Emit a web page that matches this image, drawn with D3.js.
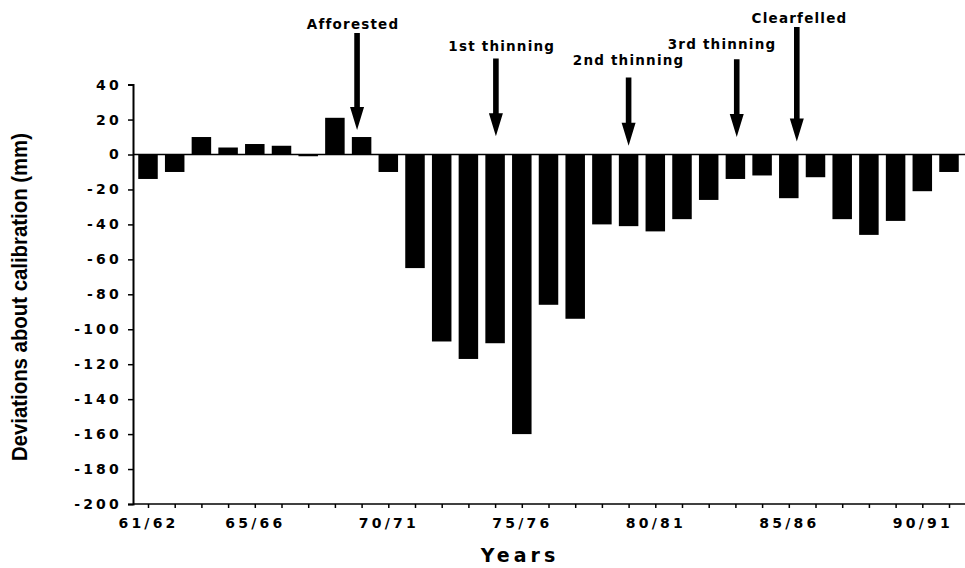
<!DOCTYPE html>
<meta charset="utf-8">
<style>
body { margin: 0; background: #fff; }
svg text { font-family: "DejaVu Sans", sans-serif; font-weight: bold; fill: #000; }
.axis text { font-size: 14px; letter-spacing: 3.2px; }
.axis line { stroke: #000; stroke-width: 1.5; }
.anno text { font-size: 13.5px; letter-spacing: 1.2px; text-anchor: middle; }
</style>
<body>
<svg id="chart" width="965" height="568"></svg>
<script src="https://d3js.org/d3.v7.min.js"></script>
<script>
// water years and deviations about calibration (mm)
var years = ["61/62","62/63","63/64","64/65","65/66","66/67","67/68","68/69","69/70","70/71",
  "71/72","72/73","73/74","74/75","75/76","76/77","77/78","78/79","79/80","80/81",
  "81/82","82/83","83/84","84/85","85/86","86/87","87/88","88/89","89/90","90/91","91/92"];
var deviations = [-14, -10, 10, 4, 6, 5, -1, 21, 10, -10,
  -65, -107, -117, -108, -160, -86, -94, -40, -41, -44,
  -37, -26, -14, -12, -25, -13, -37, -46, -38, -21, -10];
var labelledYears = ["61/62","65/66","70/71","75/76","80/81","85/86","90/91"];
var yTicks = [40, 20, 0, -20, -40, -60, -80, -100, -120, -140, -160, -180, -200];

// events (position in year index, arrow top and tip in mm, label baseline in mm)
var annoLabels = ["Afforested", "1st thinning", "2nd thinning", "3rd thinning", "Clearfelled"];
var annoPos = [7.83, 13.03, 18.0, 22.05, 24.3];
var annoTextPos = [7.68, 13.25, 18.0, 21.5, 24.4];
var annoTop = [69.5, 55, 44, 54.5, 73];
var annoTip = [14, 10.5, 5, 10, 7.5];
var annoText = [72, 59, 51, 60.5, 75.5];

var svg = d3.select("#chart"),
    W = +svg.attr("width"),
    plotLeft = 133, plotBottom = 504, plotTop = 84.6;

var x = d3.scaleLinear().domain([0, years.length - 1]).range([148, 949]);
var y = d3.scaleLinear().domain([-200, 40]).range([plotBottom, plotTop]);
var barW = 19.5;

// bars
svg.append("g").selectAll("rect")
  .data(deviations)
  .enter().append("rect")
    .attr("x", function(d, i) { return x(i) - barW / 2; })
    .attr("y", function(d) { return y(Math.max(0, d)); })
    .attr("width", barW)
    .attr("height", function(d) { return Math.abs(y(d) - y(0)); })
    .attr("fill", "#000");

// zero line
svg.append("line")
  .attr("x1", plotLeft).attr("x2", W)
  .attr("y1", y(0)).attr("y2", y(0))
  .attr("stroke", "#000").attr("stroke-width", 1.5);

// y axis
var yAxis = svg.append("g").attr("class", "axis")
  .attr("transform", "translate(" + plotLeft + ",0)")
  .call(d3.axisLeft(y).tickValues(yTicks).tickSize(5).tickPadding(6)
    .tickFormat(function(d) { return String(d); }));
yAxis.select(".domain").attr("stroke", "#000").attr("stroke-width", 2);

// x axis
var xAxis = svg.append("g").attr("class", "axis")
  .attr("transform", "translate(0," + plotBottom + ")")
  .call(d3.axisBottom(x).tickValues(d3.range(years.length)).tickSize(4).tickPadding(10)
    .tickFormat(function(i) { return labelledYears.indexOf(years[i]) >= 0 ? years[i] : ""; }));
xAxis.select(".domain").remove();
xAxis.append("line")
  .attr("x1", plotLeft).attr("x2", W)
  .attr("stroke", "#000").attr("stroke-width", 2);

// axis titles
svg.append("text")
  .attr("transform", "translate(27,297) rotate(-90)")
  .attr("text-anchor", "middle")
  .style("font-family", "'Liberation Sans', Arial, sans-serif")
  .style("font-size", "22px")
  .attr("textLength", 328).attr("lengthAdjust", "spacingAndGlyphs")
  .text("Deviations about calibration (mm)");

svg.append("text")
  .attr("x", 520).attr("y", 562)
  .attr("text-anchor", "middle")
  .style("font-size", "19px").style("letter-spacing", "4px")
  .text("Years");

// event arrows
var anno = svg.append("g").attr("class", "anno")
  .selectAll("g").data(annoLabels).enter().append("g");

anno.append("text")
  .attr("x", function(d, i) { return x(annoTextPos[i]); })
  .attr("y", function(d, i) { return y(annoText[i]); })
  .text(function(d) { return d; });

anno.append("path")
  .attr("fill", "#000")
  .attr("d", function(d, i) {
    var cx = x(annoPos[i]), y0 = y(annoTop[i]), y1 = y(annoTip[i]),
        sw = 2.8, hw = 7, hl = 23;
    return "M" + (cx - sw) + "," + y0 + "H" + (cx + sw) + "V" + (y1 - hl) +
      "H" + (cx + hw) + "L" + cx + "," + y1 + "L" + (cx - hw) + "," + (y1 - hl) +
      "H" + (cx - sw) + "Z";
  });
</script>
</body>
